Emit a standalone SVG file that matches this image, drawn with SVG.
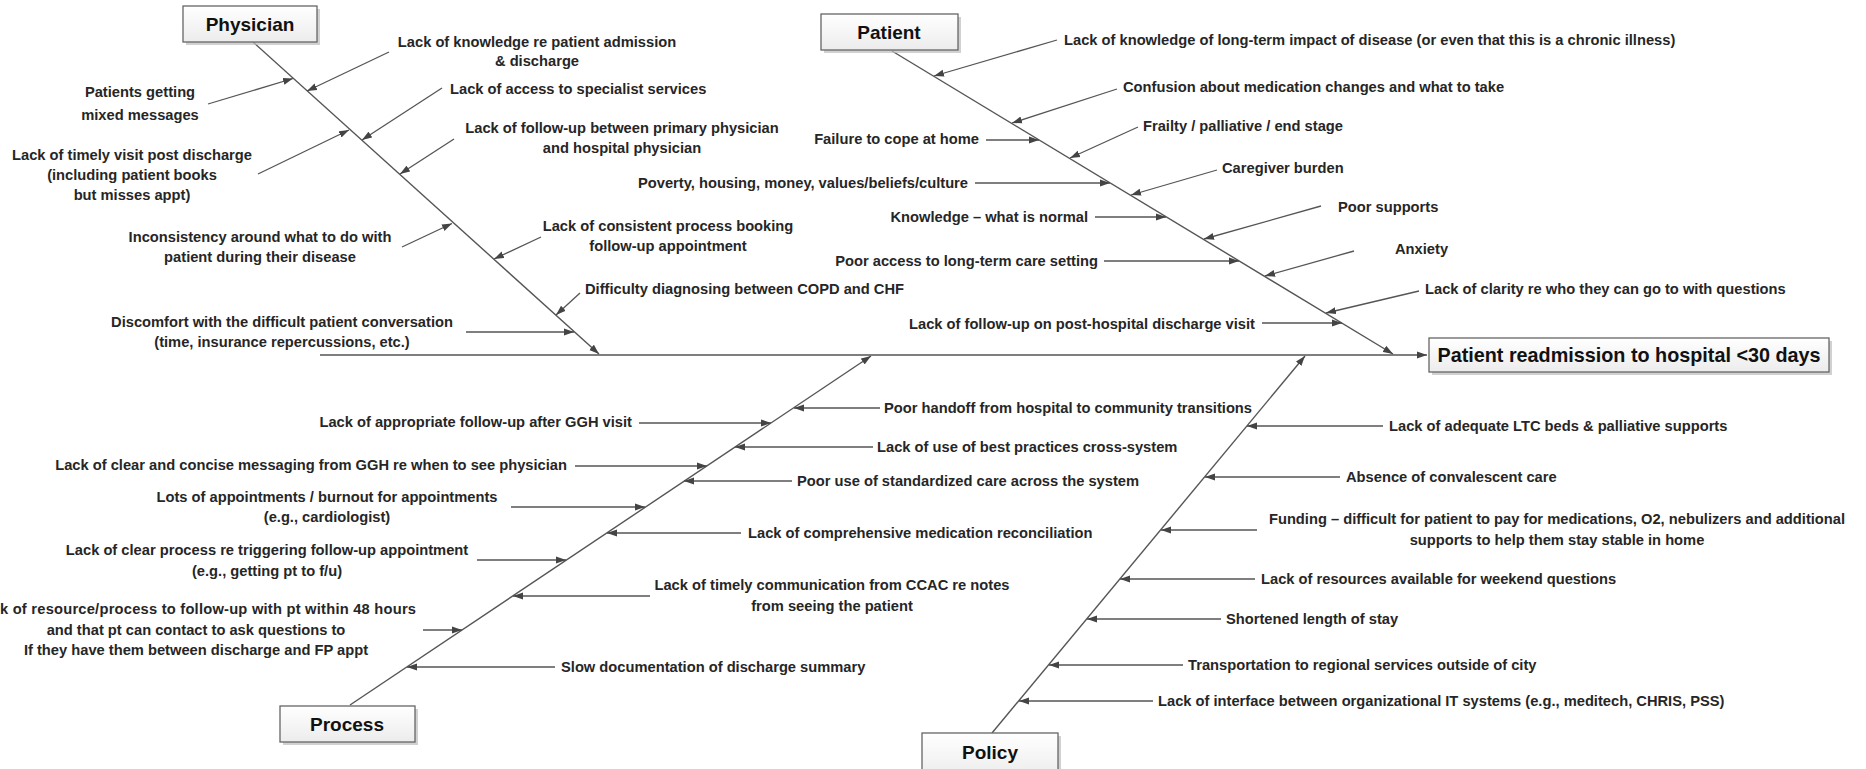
<svg xmlns="http://www.w3.org/2000/svg" width="1866" height="769" viewBox="0 0 1866 769">
  <style>
    .t { font-family: "Liberation Sans", Arial, sans-serif; font-size: 14.7px; font-weight: bold; fill: #262626; }
    .m { text-anchor: middle; }
    .e { text-anchor: end; }
    .lbl { font-family: "Liberation Sans", Arial, sans-serif; font-size: 19px; font-weight: bold; fill: #111; text-anchor: middle; }
    .eff { font-family: "Liberation Sans", Arial, sans-serif; font-size: 19.8px; font-weight: bold; fill: #111; text-anchor: middle; }
    .box { fill: url(#boxFill); stroke: #666; stroke-width: 1.3; }
    .shadow { fill: #bdbdbd; opacity: 0.7; }
    .bone { stroke: #555; stroke-width: 1.4; fill: none; marker-end: url(#tip); }
    .cause { stroke: #555; stroke-width: 1.3; fill: none; marker-end: url(#tip); }
  </style>
  <defs>
    <linearGradient id="boxFill" x1="0" y1="0" x2="0" y2="1">
      <stop offset="0" stop-color="#ffffff"/>
      <stop offset="1" stop-color="#ececec"/>
    </linearGradient>
    <marker id="tip" markerUnits="userSpaceOnUse" markerWidth="11" markerHeight="8" refX="10" refY="4" orient="auto">
      <path d="M0,0.5 L10,4 L0,7.5 Z" fill="#444"/>
    </marker>
  </defs>

  <rect width="1866" height="769" fill="#ffffff"/>

  <!-- spine, main bones and cause arrows -->
  <g id="connectors">
    <line class="bone" x1="320" y1="355" x2="1427" y2="355"/>
    <line class="bone" x1="253" y1="42" x2="599" y2="354"/>
    <line class="bone" x1="892" y1="51" x2="1393" y2="354"/>
    <line class="bone" x1="350" y1="705" x2="871" y2="356"/>
    <line class="bone" x1="992" y1="733" x2="1305" y2="356"/>

    <!-- physician causes -->
    <line class="cause" x1="389" y1="52" x2="307" y2="91"/>
    <line class="cause" x1="208" y1="104" x2="293" y2="78.5"/>
    <line class="cause" x1="442" y1="88" x2="362" y2="140"/>
    <line class="cause" x1="454" y1="139" x2="400" y2="174"/>
    <line class="cause" x1="258" y1="174" x2="349" y2="130"/>
    <line class="cause" x1="402" y1="247" x2="452" y2="223.5"/>
    <line class="cause" x1="541" y1="237" x2="494" y2="259"/>
    <line class="cause" x1="580" y1="293" x2="556" y2="315"/>
    <line class="cause" x1="466" y1="332" x2="574" y2="332"/>

    <!-- patient causes -->
    <line class="cause" x1="1057" y1="40" x2="934" y2="76"/>
    <line class="cause" x1="1117" y1="89" x2="1012" y2="123"/>
    <line class="cause" x1="1138" y1="127" x2="1070" y2="158"/>
    <line class="cause" x1="1217" y1="170" x2="1131" y2="195"/>
    <line class="cause" x1="1321" y1="206" x2="1204" y2="239"/>
    <line class="cause" x1="1354" y1="251" x2="1265" y2="276"/>
    <line class="cause" x1="1419" y1="291" x2="1326" y2="313"/>
    <line class="cause" x1="986" y1="140" x2="1039" y2="140"/>
    <line class="cause" x1="975" y1="183" x2="1110" y2="183"/>
    <line class="cause" x1="1095" y1="217" x2="1166" y2="217"/>
    <line class="cause" x1="1104" y1="261" x2="1239" y2="261"/>
    <line class="cause" x1="1262" y1="323" x2="1342" y2="323"/>

    <!-- process causes -->
    <line class="cause" x1="880" y1="408" x2="794" y2="408"/>
    <line class="cause" x1="873" y1="447" x2="735" y2="447"/>
    <line class="cause" x1="792" y1="481" x2="684" y2="481"/>
    <line class="cause" x1="741" y1="533" x2="607" y2="533"/>
    <line class="cause" x1="650" y1="596" x2="513" y2="596"/>
    <line class="cause" x1="555" y1="667" x2="407" y2="667"/>
    <line class="cause" x1="639" y1="423" x2="771" y2="423"/>
    <line class="cause" x1="575" y1="466" x2="707" y2="466"/>
    <line class="cause" x1="511" y1="507" x2="645" y2="507"/>
    <line class="cause" x1="477" y1="560" x2="566" y2="560"/>
    <line class="cause" x1="423" y1="630" x2="462" y2="630"/>

    <!-- policy causes -->
    <line class="cause" x1="1383" y1="426" x2="1247" y2="426"/>
    <line class="cause" x1="1340" y1="477" x2="1205" y2="477"/>
    <line class="cause" x1="1257" y1="530" x2="1161" y2="530"/>
    <line class="cause" x1="1255" y1="579" x2="1120" y2="579"/>
    <line class="cause" x1="1221" y1="619" x2="1087" y2="619"/>
    <line class="cause" x1="1183" y1="665" x2="1049" y2="665"/>
    <line class="cause" x1="1153" y1="701" x2="1019" y2="701"/>
  </g>

  <!-- category boxes with their cause labels -->
  <g id="physician">
    <rect class="shadow" x="186" y="9" width="134" height="36"/>
    <rect class="box" x="183" y="6" width="134" height="36"/>
    <text class="lbl" x="250" y="31">Physician</text>
    <text class="t m" x="537" y="47">Lack of knowledge re patient admission</text>
    <text class="t m" x="537" y="66">&amp; discharge</text>
    <text class="t m" x="140" y="97">Patients getting</text>
    <text class="t m" x="140" y="120">mixed messages</text>
    <text class="t" x="450" y="94">Lack of access to specialist services</text>
    <text class="t m" x="622" y="133">Lack of follow-up between primary physician</text>
    <text class="t m" x="622" y="153">and hospital physician</text>
    <text class="t m" x="132" y="160">Lack of timely visit post discharge</text>
    <text class="t m" x="132" y="180">(including patient books</text>
    <text class="t m" x="132" y="200">but misses appt)</text>
    <text class="t m" x="260" y="242">Inconsistency around what to do with</text>
    <text class="t m" x="260" y="262">patient during their disease</text>
    <text class="t m" x="668" y="231">Lack of consistent process booking</text>
    <text class="t m" x="668" y="251">follow-up appointment</text>
    <text class="t" x="585" y="294">Difficulty diagnosing between COPD and CHF</text>
    <text class="t m" x="282" y="327">Discomfort with the difficult patient conversation</text>
    <text class="t m" x="282" y="347">(time, insurance repercussions, etc.)</text>
  </g>

  <g id="patient">
    <rect class="shadow" x="824" y="17" width="137" height="36"/>
    <rect class="box" x="821" y="14" width="137" height="36"/>
    <text class="lbl" x="889" y="39">Patient</text>
    <text class="t" x="1064" y="45">Lack of knowledge of long-term impact of disease (or even that this is a chronic illness)</text>
    <text class="t" x="1123" y="92">Confusion about medication changes and what to take</text>
    <text class="t" x="1143" y="131">Frailty / palliative / end stage</text>
    <text class="t" x="1222" y="173">Caregiver burden</text>
    <text class="t" x="1338" y="212">Poor supports</text>
    <text class="t" x="1395" y="254">Anxiety</text>
    <text class="t" x="1425" y="294">Lack of clarity re who they can go to with questions</text>
    <text class="t e" x="979" y="144">Failure to cope at home</text>
    <text class="t e" x="968" y="188">Poverty, housing, money, values/beliefs/culture</text>
    <text class="t e" x="1088" y="222">Knowledge – what is normal</text>
    <text class="t e" x="1098" y="266">Poor access to long-term care setting</text>
    <text class="t e" x="1255" y="329">Lack of follow-up on post-hospital discharge visit</text>
  </g>

  <g id="process">
    <rect class="shadow" x="283" y="709" width="135" height="36"/>
    <rect class="box" x="280" y="706" width="135" height="36"/>
    <text class="lbl" x="347" y="731">Process</text>
    <text class="t" x="884" y="413">Poor handoff from hospital to community transitions</text>
    <text class="t" x="877" y="452">Lack of use of best practices cross-system</text>
    <text class="t" x="797" y="486">Poor use of standardized care across the system</text>
    <text class="t" x="748" y="538">Lack of comprehensive medication reconciliation</text>
    <text class="t m" x="832" y="590">Lack of timely communication from CCAC re notes</text>
    <text class="t m" x="832" y="611">from seeing the patient</text>
    <text class="t" x="561" y="672">Slow documentation of discharge summary</text>
    <text class="t e" x="632" y="427">Lack of appropriate follow-up after GGH visit</text>
    <text class="t e" x="567" y="470">Lack of clear and concise messaging from GGH re when to see physician</text>
    <text class="t m" x="327" y="502">Lots of appointments / burnout for appointments</text>
    <text class="t m" x="327" y="522">(e.g., cardiologist)</text>
    <text class="t m" x="267" y="555">Lack of clear process re triggering follow-up appointment</text>
    <text class="t m" x="267" y="576">(e.g., getting pt to f/u)</text>
    <text class="t" x="-26" y="614" textLength="442" lengthAdjust="spacing">Lack of resource/process to follow-up with pt within 48 hours</text>
    <text class="t m" x="196" y="635">and that pt can contact to ask questions to</text>
    <text class="t m" x="196" y="655">If they have them between discharge and FP appt</text>
  </g>

  <g id="policy">
    <rect class="shadow" x="925" y="736" width="136" height="45"/>
    <rect class="box" x="922" y="733" width="136" height="45"/>
    <text class="lbl" x="990" y="759">Policy</text>
    <text class="t" x="1389" y="431">Lack of adequate LTC beds &amp; palliative supports</text>
    <text class="t" x="1346" y="482">Absence of convalescent care</text>
    <text class="t m" x="1557" y="524">Funding – difficult for patient to pay for medications, O2, nebulizers and additional</text>
    <text class="t m" x="1557" y="545">supports to help them stay stable in home</text>
    <text class="t" x="1261" y="584">Lack of resources available for weekend questions</text>
    <text class="t" x="1226" y="624">Shortened length of stay</text>
    <text class="t" x="1188" y="670">Transportation to regional services outside of city</text>
    <text class="t" x="1158" y="706">Lack of interface between organizational IT systems (e.g., meditech, CHRIS, PSS)</text>
  </g>

  <g id="readmission">
    <rect class="shadow" x="1432" y="341" width="400" height="34"/>
    <rect class="box" x="1429" y="338" width="400" height="34"/>
    <text class="eff" x="1629" y="362">Patient readmission to hospital &lt;30 days</text>
  </g>
</svg>
